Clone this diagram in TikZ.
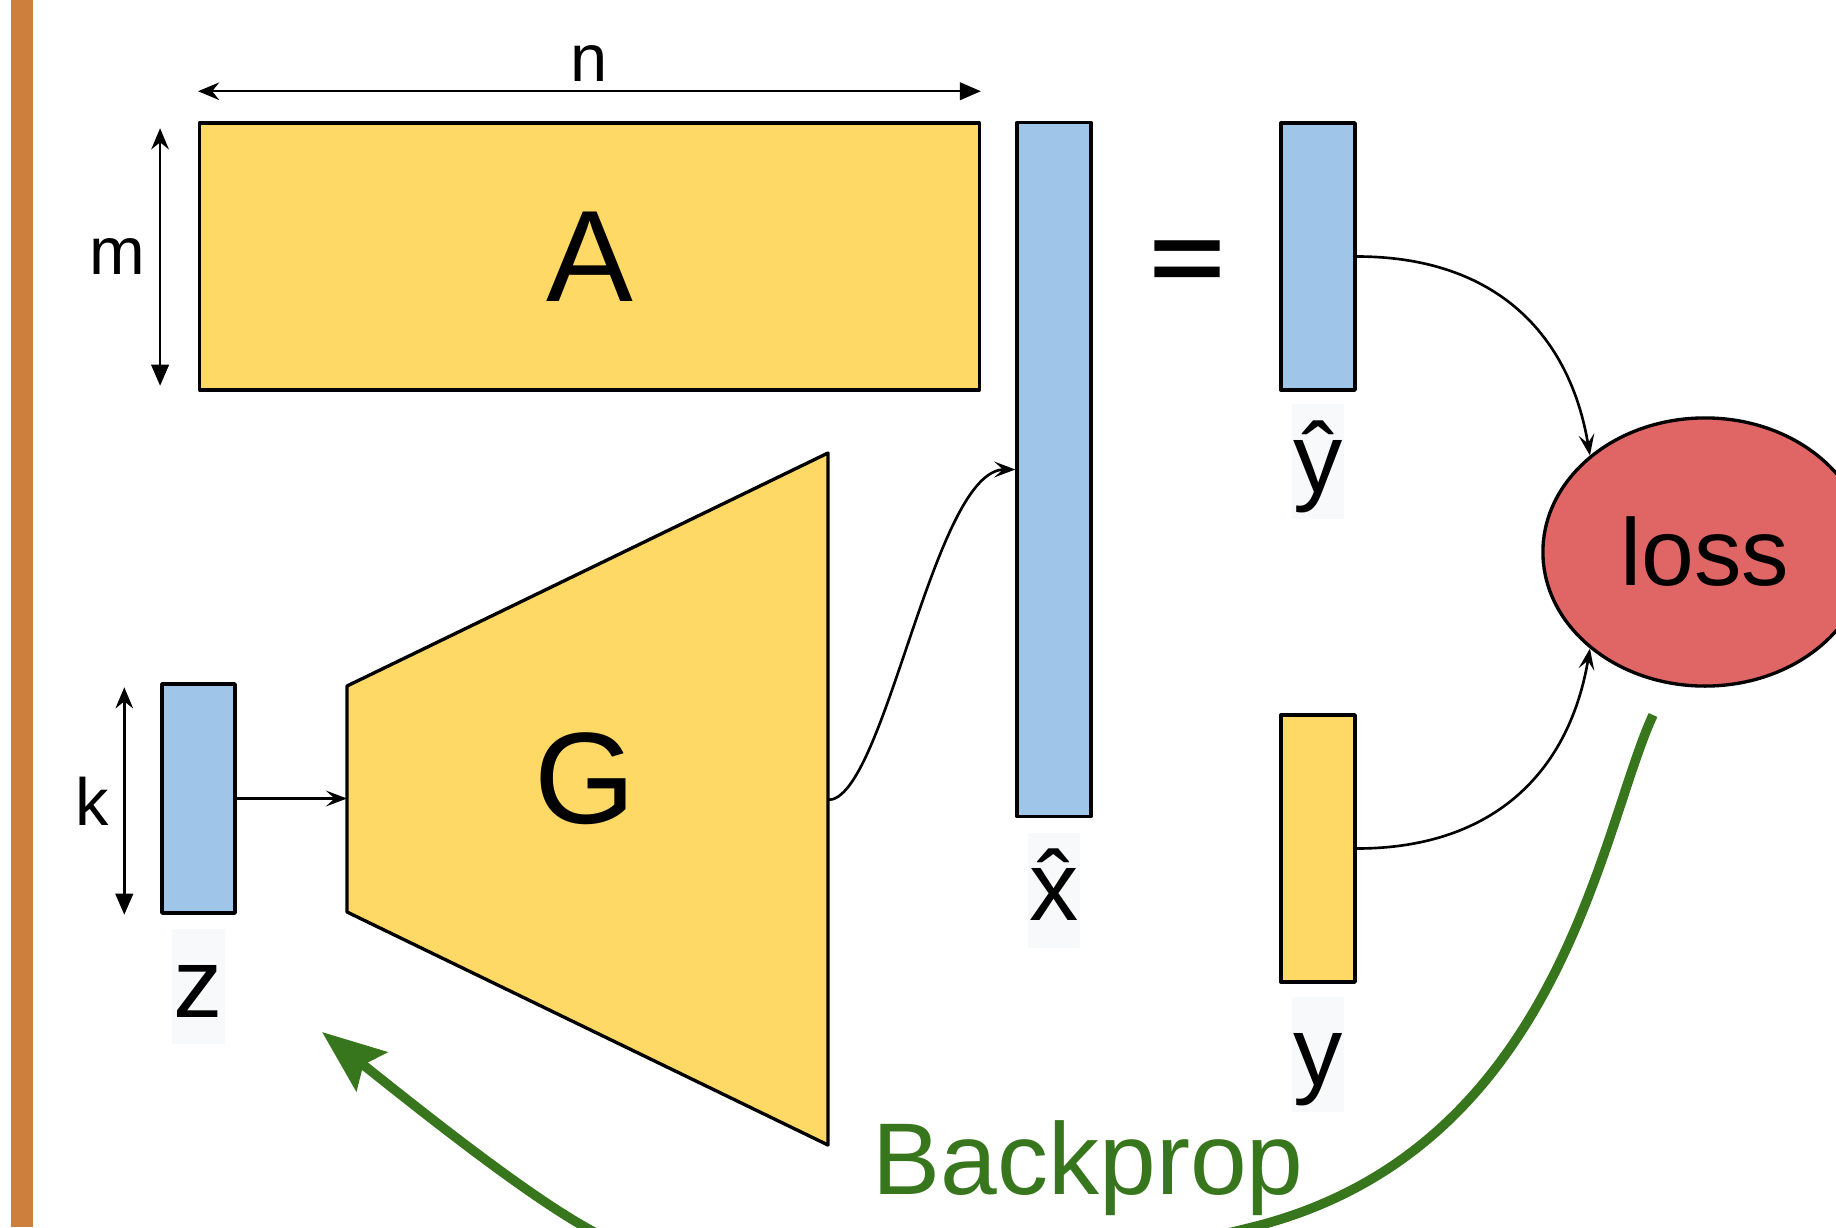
\documentclass[tikz,border=0pt]{standalone}
\usepackage{fontspec}
\setmainfont{Liberation Sans}
\usepackage{xcolor}
\usepackage{graphicx}
\usepackage{tikz}
\usetikzlibrary{arrows.meta, positioning, calc, shapes.geometric}
\definecolor{barblue}{RGB}{159, 197, 232}
\definecolor{boxyellow}{RGB}{255, 217, 102}
\definecolor{lossred}{RGB}{224, 102, 102}
\definecolor{backgreen}{RGB}{56, 118, 29}
\definecolor{edgeorange}{RGB}{205, 128, 61}
\definecolor{labelgray}{RGB}{248, 249, 250}

\begin{document}
\begin{tikzpicture}[x=0.01cm, y=-0.01cm, line join=round,
  barbox/.style={draw, line width=0.95pt, inner sep=0pt},
  bigletter/.style={font=\fontsize{37}{40}\selectfont},
  veclabel/.style={fill=labelgray, inner sep=0pt, minimum width=5.2mm, text height=25pt, text depth=7.7pt, font=\fontsize{28}{30}\selectfont},
  dimlabel/.style={font=\fontsize{19}{21}\selectfont, inner sep=4pt},
  dimarrow/.style={line width=0.7pt, {Stealth[length=6pt, width=5pt, inset=2pt]}-{Triangle[length=6pt, width=5pt]}},
  flow/.style={line width=0.75pt, -{Stealth[length=6pt, width=4.5pt, inset=2.5pt]}}]
  \clip[use as bounding box] (0,0) rectangle (1836,1227);
  \fill[edgeorange] (11,0) rectangle (33,1227);

  % matrix and vectors
  \node[barbox, fill=boxyellow, minimum width=77.9mm, minimum height=26.7mm, bigletter] (A) at (589.5,256.5) {A};
  \node[barbox, fill=barblue, minimum width=7.4mm, minimum height=69.3mm] (xhat) at (1054,469.5) {};
  \node[barbox, fill=barblue, minimum width=7.4mm, minimum height=26.7mm] (yhat) at (1318,256.5) {};
  \node[barbox, fill=boxyellow, minimum width=7.4mm, minimum height=26.7mm] (yvec) at (1318,848.5) {};
  \node[barbox, fill=barblue, minimum width=7.3mm, minimum height=22.9mm] (zvec) at (198.5,798.5) {};
  \node[veclabel, below=1.4mm of xhat] (xhatlabel) {\^{x}};
  \node[veclabel, below=1.2mm of yhat] (yhatlabel) {ŷ};
  \node[veclabel, below=1.3mm of yvec] (ylabel) {y};
  \node[veclabel, below=1.4mm of zvec] (zlabel) {z};
  \node[bigletter] (eq) at (1187,266) {\scalebox{1}[0.75]{\bfseries =}};

  % generator
  \coordinate (Gin) at (347,800);
  \coordinate (Gout) at (828,800);
  \draw[barbox, fill=boxyellow] (347,686) -- (828,453) -- (828,1145) -- (347,912) -- cycle;
  \node[bigletter] (G) at (585,779) {G};

  \node[ellipse, draw, fill=lossred, line width=0.95pt, minimum width=32.4mm, minimum height=26.8mm, inner sep=0pt, font=\fontsize{27}{30}\selectfont] (loss) at (1705,552) {loss};

  % sizes
  \draw[dimarrow] ([yshift=3mm]A.north west) -- ([yshift=3mm]A.north east) node[midway, above, dimlabel, inner sep=2.3pt] {n};
  \draw[dimarrow] ([xshift=-3.8mm, yshift=-0.7mm]A.north west) -- ([xshift=-3.8mm, yshift=0.6mm]A.south west) node[midway, left, dimlabel] {m};
  \draw[dimarrow] ([xshift=-3.6mm, yshift=-0.5mm]zvec.north west) -- ([xshift=-3.6mm]zvec.south west) node[midway, left, dimlabel] {k};

  % forward pass
  \draw[flow] (zvec.east) -- (zvec.east -| Gin);
  \draw[flow] (Gout) .. controls +(57,0) and +(-82,0) .. (xhat.west);
  \draw[flow] (yhat.east) .. controls +(140,0) and +(-20,-120) .. (loss.140);
  \draw[flow] (yvec.east) .. controls +(140,0) and +(-20,120) .. (loss.220);

  % backprop
  \coordinate (bpstart) at (1653,715);
  \coordinate (bptip) at (322,1032);
  \draw[backgreen, line width=2.7pt, -{Stealth[length=18pt, width=14pt, inset=3pt]}] (bpstart) .. controls (1600,830) and (1560,1150) .. (1253,1227) .. controls (1053,1277) and (745,1320) .. (585,1227) .. controls (520,1190) and (420,1110) .. (bptip);
  \node[anchor=base west, text=backgreen, inner sep=0pt, font=\fontsize{29}{32}\selectfont] (bplabel) at (872,1194) {Backprop};
\end{tikzpicture}
\end{document}
